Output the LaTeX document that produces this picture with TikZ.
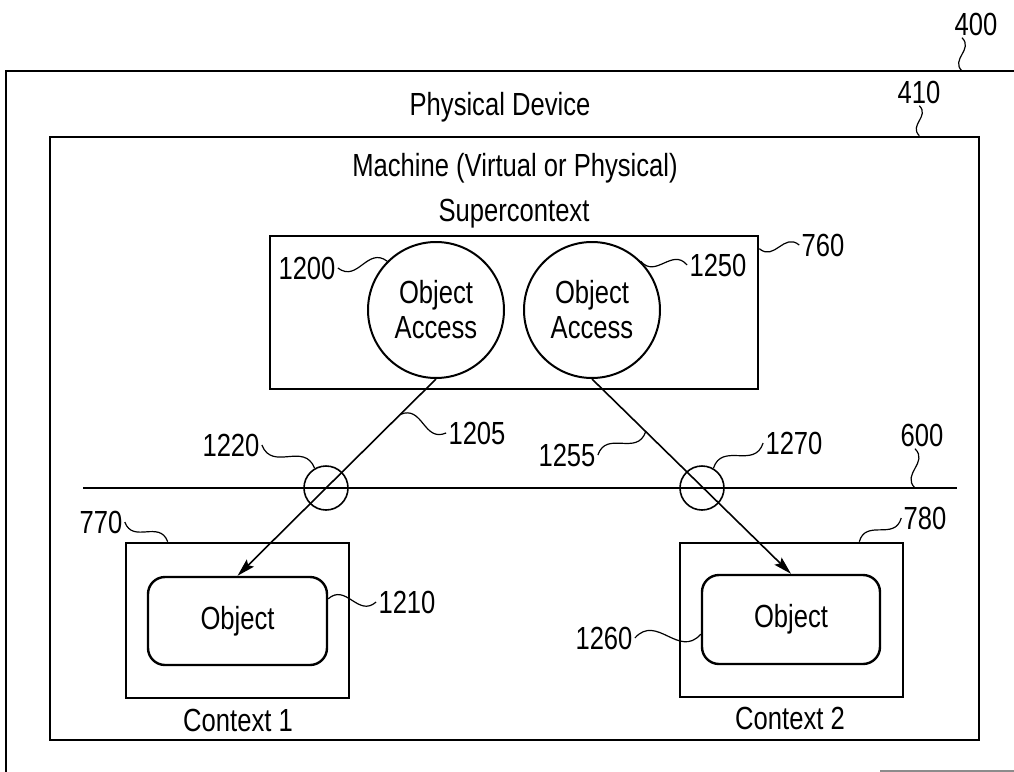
\documentclass[tikz,border=0pt]{standalone}
\usepackage{fontspec}
\setmainfont{Liberation Sans}[FakeStretch=0.8]
\usetikzlibrary{arrows.meta}
\usetikzlibrary{calc}

\newcommand{\squig}[3][45]{\draw[lead] (#2) .. controls ($(#2)!0.5!#1:(#3)$) and ($(#3)!0.5!#1:(#2)$) .. (#3);}

\begin{document}
\begin{tikzpicture}[x=0.5pt,y=-0.5pt,
  box/.style={draw,line width=1.3pt,inner sep=0pt},
  thin/.style={line width=0.8pt},
  lead/.style={line width=0.6pt},
  txt/.style={font=\fontsize{16}{18}\selectfont,inner sep=1pt},
  access/.style={circle,draw,line width=1pt,minimum size=68pt,inner sep=0pt,
    align=center,font=\fontsize{16}{17.5}\selectfont},
  obj/.style={draw,line width=1.2pt,rounded corners=8.5pt,inner sep=0pt,
    minimum width=89.5pt,minimum height=44pt,font=\fontsize{16}{18}\selectfont},
  ring/.style={circle,draw,thin,minimum size=22pt,inner sep=0pt},
  link/.style={thin,-{Stealth[length=9pt,width=5pt,inset=1.5pt]}}]
  \useasboundingbox (0,0) rectangle (1014,772);

  \draw[box] (1014,71) -- (6,71) -- (6,772);
  \draw[line width=1pt,black!45] (880,771) -- (1014,771);
  \coordinate (k400) at (962,71);

  \node[box,minimum width=464.5pt,minimum height=301.5pt] (dev) at (514.5,438.5) {};
  \node[txt] (tpd) at (500,107) {Physical Device};
  \node[txt] (tmach) at (515,168) {Machine (Virtual or Physical)};
  \node[txt] (tsup) at (514,214) {Supercontext};

  \node[box,minimum width=244pt,minimum height=76.5pt] (sup) at (514,312.5) {};
  \node[access] (oa1) at (436,310) {Object\\Access};
  \node[access] (oa2) at (592,310) {Object\\Access};

  \node[box,minimum width=111.5pt,minimum height=77.5pt] (ctx1) at (237.5,620.5) {};
  \node[box,minimum width=111.5pt,minimum height=77pt] (ctx2) at (791.5,620) {};
  \node[obj] (obj1) at (237.5,621) {Object};
  \node[obj,minimum width=89pt,minimum height=44.5pt] (obj2) at (791,619.5) {Object};
  \node[txt] (tc1) at (238,720) {Context 1};
  \node[txt] (tc2) at (790,718) {Context 2};

  \draw[thin] (83,488) coordinate (busw) -- (957,488) coordinate (buse);
  \coordinate (k600) at (915,488);
  \node[ring] (r1220) at (326,488) {};
  \node[ring] (r1270) at (702,488) {};

  \draw[link] (oa1.south) -- node[pos=0.18,coordinate] (k1205) {} (obj1.north);
  \draw[link] (oa2.south) -- node[pos=0.27,coordinate] (k1255) {} (obj2.north);

  \coordinate (k410) at ($(dev.north east)+(-61,0)$);
  \coordinate (k760) at ($(sup.north east)+(0,14)$);
  \coordinate (k770) at ($(ctx1.north west)+(43,0)$);
  \coordinate (k780) at ($(ctx2.north east)+(-45,0)$);
  \coordinate (k1210) at ($(obj1.north east)+(0,23)$);
  \coordinate (k1260) at ($(obj2.south west)+(0,-31)$);

  \node[txt] (n400) at (976,24) {400};
  \node[txt] (n410) at (919,92) {410};
  \node[txt] (n760) at (823,245) {760};
  \node[txt] (n1200) at (307,268) {1200};
  \node[txt] (n1250) at (718,265) {1250};
  \node[txt] (n1205) at (477,433) {1205};
  \node[txt] (n1255) at (567,455) {1255};
  \node[txt] (n1220) at (231,445) {1220};
  \node[txt] (n1270) at (794,443) {1270};
  \node[txt] (n600) at (922,435) {600};
  \node[txt] (n770) at (101,522) {770};
  \node[txt] (n780) at (925,518) {780};
  \node[txt] (n1210) at (407,602) {1210};
  \node[txt] (n1260) at (604,638) {1260};

  \coordinate (s400) at (n400.south -| k400);
  \coordinate (s410) at (n410.south -| k410);
  \coordinate (s600) at (n600.south -| k600);
  \squig{s400}{k400}
  \squig{s410}{k410}
  \squig{s600}{k600}
  \squig[-45]{k760}{n760.west}
  \squig[-45]{n1200.east}{oa1.135}
  \squig[-45]{oa2.45}{n1250.west}
  \squig{k1205}{n1205.west}
  \squig{n1255.east}{k1255}
  \squig[-45]{n1220.east}{r1220.120}
  \squig{r1270.60}{n1270.west}
  \squig[-45]{n770.east}{k770}
  \squig{k780}{n780.west}
  \squig{k1210}{n1210.west}
  \squig{n1260.east}{k1260}
\end{tikzpicture}
\end{document}
